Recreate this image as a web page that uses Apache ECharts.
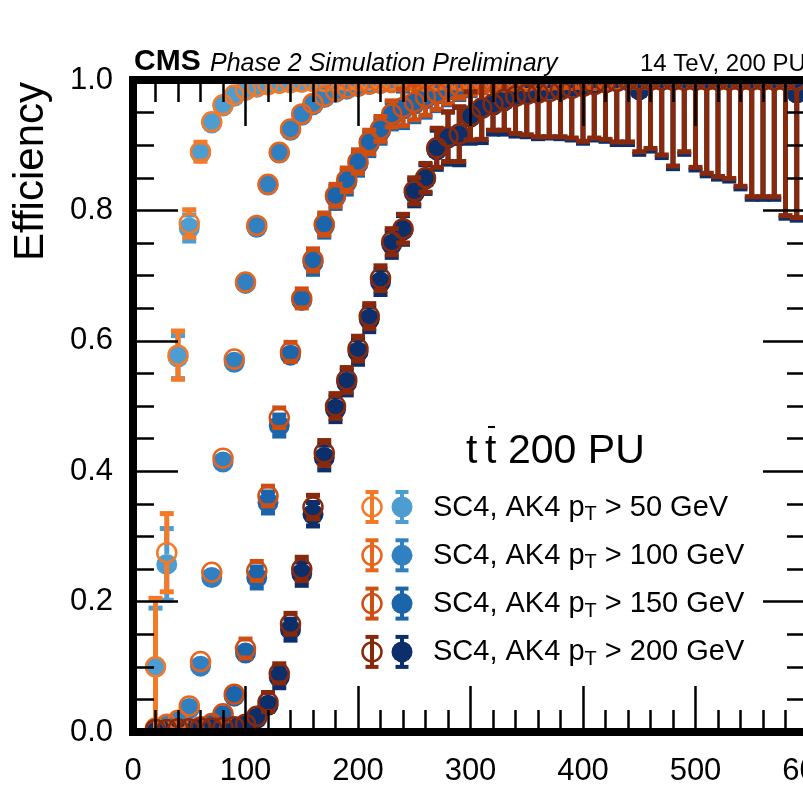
<!DOCTYPE html>
<html>
<head>
<meta charset="utf-8">
<script src="https://cdn.jsdelivr.net/npm/echarts@6/dist/echarts.min.js"></script>
<style>
  html, body { margin: 0; padding: 0; background: #fff; }
  #chart { width: 803px; height: 810px; }
</style>
</head>
<body>
<div id="chart"></div>
<script>
// jet pT bins (GeV)
const binCenters = [
  20, 30, 40, 50, 60, 70, 80, 90, 100, 110,
  120, 130, 140, 150, 160, 170, 180, 190, 200, 210,
  220, 230, 240, 250, 260, 270, 280, 290, 300, 310,
  320, 330, 340, 350, 360, 370, 380, 390, 400, 410,
  420, 430, 440, 450, 460, 470, 480, 490, 500, 510,
  520, 530, 540, 550, 560, 570, 580, 590
]

// AK4 (filled) efficiencies
const ak50 = [
  0.100, 0.257, 0.575, 0.773, 0.888, 0.934, 0.960, 0.975, 0.984, 0.989,
  0.993, 0.995, 0.996, 0.997, 0.998, 0.998, 0.999, 0.999, 0.999, 1.000,
  1.000, 1.000, 1.000, 1.000, 1.000, 1.000, 1.000, 1.000, 1.000, 1.000,
  1.000, 1.000, 1.000, 1.000, 1.000, 1.000, 1.000, 1.000, 1.000, 1.000,
  1.000, 1.000, 1.000, 1.000, 1.000, 1.000, 1.000, 1.000, 1.000, 1.000,
  1.000, 1.000, 1.000, 1.000, 1.000, 1.000, 1.000, 1.000
]
const ak50Err = [
  0.090, 0.055, 0.033, 0.020, 0.012, 0.008, 0.006, 0.005, 0.004, 0.003,
  0.003, 0.002, 0.002, 0.002, 0.002, 0.002, 0.002, 0.002, 0.002, 0.002,
  0.002, 0.002, 0.002, 0.002, 0.002, 0.002, 0.002, 0.002, 0.002, 0.002,
  0.002, 0.002, 0.002, 0.002, 0.002, 0.002, 0.002, 0.002, 0.002, 0.002,
  0.002, 0.002, 0.002, 0.002, 0.002, 0.002, 0.002, 0.002, 0.002, 0.002,
  0.002, 0.002, 0.002, 0.002, 0.002, 0.002, 0.002, 0.002
]
const ak100 = [
  0.004, 0.010, 0.016, 0.036, 0.101, 0.237, 0.414, 0.567, 0.688, 0.774,
  0.839, 0.888, 0.923, 0.946, 0.962, 0.973, 0.981, 0.986, 0.990, 0.993,
  0.995, 0.996, 0.997, 0.998, 0.998, 0.999, 0.999, 0.999, 1.000, 1.000,
  1.000, 1.000, 1.000, 1.000, 1.000, 1.000, 1.000, 1.000, 1.000, 1.000,
  1.000, 1.000, 1.000, 1.000, 1.000, 1.000, 1.000, 1.000, 1.000, 1.000,
  1.000, 1.000, 1.000, 1.000, 1.000, 1.000, 1.000, 1.000
]
const ak100Err = [
  0.004, 0.004, 0.005, 0.006, 0.008, 0.009, 0.010, 0.009, 0.008, 0.007,
  0.006, 0.005, 0.004, 0.004, 0.003, 0.003, 0.003, 0.003, 0.003, 0.003,
  0.003, 0.003, 0.003, 0.003, 0.003, 0.003, 0.003, 0.003, 0.003, 0.003,
  0.003, 0.003, 0.003, 0.003, 0.003, 0.003, 0.003, 0.003, 0.003, 0.003,
  0.003, 0.003, 0.003, 0.003, 0.003, 0.003, 0.003, 0.003, 0.003, 0.003,
  0.003, 0.003, 0.003, 0.003, 0.003, 0.003, 0.003, 0.003
]
const ak150 = [
  0.002, 0.003, 0.003, 0.004, 0.006, 0.011, 0.025, 0.055, 0.121, 0.237,
  0.352, 0.470, 0.578, 0.662, 0.720, 0.776, 0.820, 0.843, 0.872, 0.902,
  0.922, 0.945, 0.955, 0.963, 0.971, 0.978, 0.984, 0.988, 0.992, 0.995,
  0.996, 0.997, 0.998, 0.998, 0.999, 0.999, 0.999, 1.000, 1.000, 1.000,
  1.000, 1.000, 1.000, 1.000, 1.000, 1.000, 1.000, 1.000, 1.000, 1.000,
  1.000, 1.000, 1.000, 1.000, 1.000, 1.000, 1.000, 1.000
]
const ak150Err = [
  0.003, 0.003, 0.003, 0.004, 0.005, 0.006, 0.008, 0.010, 0.012, 0.014,
  0.015, 0.015, 0.012, 0.012, 0.018, 0.017, 0.017, 0.018, 0.018, 0.018,
  0.019, 0.020, 0.028, 0.027, 0.028, 0.025, 0.022, 0.018, 0.015, 0.012,
  0.010, 0.009, 0.008, 0.007, 0.006, 0.006, 0.006, 0.006, 0.006, 0.006,
  0.006, 0.006, 0.006, 0.006, 0.006, 0.006, 0.006, 0.006, 0.006, 0.006,
  0.006, 0.006, 0.006, 0.006, 0.006, 0.006, 0.006, 0.006
]
const ak200 = [
  0.002, 0.002, 0.003, 0.003, 0.004, 0.004, 0.005, 0.006, 0.010, 0.021,
  0.041, 0.084, 0.157, 0.243, 0.334, 0.421, 0.495, 0.536, 0.583, 0.633,
  0.690, 0.748, 0.770, 0.827, 0.848, 0.893, 0.911, 0.914, 0.943, 0.956,
  0.961, 0.968, 0.975, 0.979, 0.983, 0.986, 0.988, 0.990, 0.992, 0.995,
  0.997, 0.998, 0.999, 0.985, 1.000, 1.000, 1.000, 1.000, 1.000, 1.000,
  1.000, 1.000, 1.000, 1.000, 1.000, 1.000, 1.000, 0.980
]
const ak200Err = [
  0.004, 0.004, 0.004, 0.004, 0.005, 0.005, 0.005, 0.006, 0.007, 0.009,
  0.012, 0.014, 0.016, 0.018, 0.018, 0.019, 0.019, 0.019, 0.019, 0.019,
  0.019, 0.020, 0.022, 0.020, 0.022, 0.030, 0.040, 0.044, 0.040, 0.052,
  0.044, 0.051, 0.061, 0.066, 0.073, 0.075, 0.078, 0.082, 0.089, 0.087,
  0.091, 0.097, 0.098, 0.099, 0.109, 0.119, 0.136, 0.114, 0.138, 0.147,
  0.152, 0.155, 0.167, 0.183, 0.183, 0.183, 0.212, 0.195
]

// SC4 (open) efficiencies
const sc50 = [
  0.100, 0.275, 0.578, 0.780, 0.890, 0.936, 0.962, 0.977, 0.985, 0.990,
  0.993, 0.995, 0.996, 0.997, 0.998, 0.998, 0.999, 0.999, 0.999, 1.000,
  1.000, 1.000, 1.000, 1.000, 1.000, 1.000, 1.000, 1.000, 1.000, 1.000,
  1.000, 1.000, 1.000, 1.000, 1.000, 1.000, 1.000, 1.000, 1.000, 1.000,
  1.000, 1.000, 1.000, 1.000, 1.000, 1.000, 1.000, 1.000, 1.000, 1.000,
  1.000, 1.000, 1.000, 1.000, 1.000, 1.000, 1.000, 1.000
]
const sc50Err = [
  0.105, 0.060, 0.037, 0.021, 0.012, 0.008, 0.006, 0.005, 0.004, 0.003,
  0.003, 0.002, 0.002, 0.002, 0.002, 0.002, 0.002, 0.002, 0.002, 0.002,
  0.002, 0.002, 0.002, 0.002, 0.002, 0.002, 0.002, 0.002, 0.002, 0.002,
  0.002, 0.002, 0.002, 0.002, 0.002, 0.002, 0.002, 0.002, 0.002, 0.002,
  0.002, 0.002, 0.002, 0.002, 0.002, 0.002, 0.002, 0.002, 0.002, 0.002,
  0.002, 0.002, 0.002, 0.002, 0.002, 0.002, 0.002, 0.002
]
const sc100 = [
  0.006, 0.012, 0.018, 0.040, 0.108, 0.245, 0.420, 0.572, 0.690, 0.777,
  0.840, 0.889, 0.925, 0.948, 0.964, 0.975, 0.983, 0.988, 0.991, 0.994,
  0.995, 0.996, 0.997, 0.998, 0.998, 0.999, 0.999, 0.999, 1.000, 1.000,
  1.000, 1.000, 1.000, 1.000, 1.000, 1.000, 1.000, 1.000, 1.000, 1.000,
  1.000, 1.000, 1.000, 1.000, 1.000, 1.000, 1.000, 1.000, 1.000, 1.000,
  1.000, 1.000, 1.000, 1.000, 1.000, 1.000, 1.000, 1.000
]
const sc100Err = [
  0.004, 0.004, 0.005, 0.006, 0.008, 0.009, 0.010, 0.009, 0.008, 0.007,
  0.006, 0.005, 0.004, 0.004, 0.003, 0.003, 0.003, 0.003, 0.003, 0.003,
  0.003, 0.003, 0.003, 0.003, 0.003, 0.003, 0.003, 0.003, 0.003, 0.003,
  0.003, 0.003, 0.003, 0.003, 0.003, 0.003, 0.003, 0.003, 0.003, 0.003,
  0.003, 0.003, 0.003, 0.003, 0.003, 0.003, 0.003, 0.003, 0.003, 0.003,
  0.003, 0.003, 0.003, 0.003, 0.003, 0.003, 0.003, 0.003
]
const sc150 = [
  0.003, 0.004, 0.004, 0.005, 0.008, 0.013, 0.028, 0.058, 0.128, 0.247,
  0.362, 0.482, 0.583, 0.665, 0.724, 0.779, 0.823, 0.847, 0.875, 0.905,
  0.925, 0.948, 0.958, 0.966, 0.974, 0.980, 0.986, 0.990, 0.993, 0.995,
  0.996, 0.997, 0.998, 0.998, 0.999, 0.999, 0.999, 1.000, 1.000, 1.000,
  1.000, 1.000, 1.000, 1.000, 1.000, 1.000, 1.000, 1.000, 1.000, 1.000,
  1.000, 1.000, 1.000, 1.000, 1.000, 1.000, 1.000, 1.000
]
const sc150Err = [
  0.003, 0.003, 0.003, 0.004, 0.005, 0.006, 0.008, 0.010, 0.012, 0.014,
  0.015, 0.015, 0.012, 0.012, 0.017, 0.017, 0.017, 0.018, 0.018, 0.018,
  0.019, 0.020, 0.028, 0.027, 0.028, 0.025, 0.022, 0.018, 0.015, 0.012,
  0.010, 0.009, 0.008, 0.007, 0.006, 0.006, 0.006, 0.006, 0.006, 0.006,
  0.006, 0.006, 0.006, 0.006, 0.006, 0.006, 0.006, 0.006, 0.006, 0.006,
  0.006, 0.006, 0.006, 0.006, 0.006, 0.006, 0.006, 0.006
]
const sc200 = [
  0.004, 0.004, 0.005, 0.005, 0.006, 0.006, 0.007, 0.008, 0.012, 0.024,
  0.046, 0.090, 0.166, 0.250, 0.345, 0.428, 0.500, 0.540, 0.588, 0.638,
  0.696, 0.752, 0.772, 0.830, 0.850, 0.896, 0.913, 0.917, 0.945, 0.957,
  0.963, 0.970, 0.975, 0.978, 0.980, 0.982, 0.985, 0.987, 0.990, 0.993,
  0.996, 0.998, 1.000, 1.000, 1.000, 1.000, 1.000, 1.000, 1.000, 1.000,
  1.000, 1.000, 1.000, 1.000, 1.000, 1.000, 1.000, 1.000
]
const sc200Err = [
  0.004, 0.004, 0.004, 0.004, 0.005, 0.005, 0.005, 0.006, 0.007, 0.009,
  0.012, 0.014, 0.016, 0.018, 0.018, 0.019, 0.019, 0.019, 0.019, 0.019,
  0.019, 0.020, 0.022, 0.020, 0.022, 0.030, 0.038, 0.042, 0.037, 0.048,
  0.040, 0.047, 0.057, 0.062, 0.067, 0.069, 0.072, 0.076, 0.084, 0.082,
  0.087, 0.093, 0.095, 0.110, 0.105, 0.115, 0.132, 0.110, 0.134, 0.143,
  0.148, 0.151, 0.163, 0.179, 0.179, 0.179, 0.208, 0.211
]

const thresholds = ['50', '100', '150', '200']
const akColors = ['#4d9dd0', '#3181c2', '#1d65ab', '#0c2e6a']
const scColors = ['#f47a28', '#e7661d', '#cf4f12', '#88290b']
const akSets = [[ak50, ak50Err], [ak100, ak100Err], [ak150, ak150Err], [ak200, ak200Err]]
const scSets = [[sc50, sc50Err], [sc100, sc100Err], [sc150, sc150Err], [sc200, sc200Err]]

const FONT = '"Liberation Sans", Arial, Helvetica, sans-serif'

// marker with ROOT-like error bar (bar outside the marker, flat caps)
function errorItem(filled, color) {
  return function (params, api) {
    const x = api.value(0)
    const y = api.value(1)
    const e = api.value(2)
    const c = api.coord([x, y])
    const bot = api.coord([x, y - e])[1]
    const r = filled ? 10.5 : 9.5
    const half = bot - c[1]
    const children = []
    if (half > r - 2) {
      const d = Math.max(half, r)
      const ls = { stroke: color, lineWidth: 5 }
      children.push({ type: 'line', shape: { x1: c[0], y1: c[1] - d, x2: c[0], y2: c[1] - r }, style: ls })
      children.push({ type: 'line', shape: { x1: c[0], y1: c[1] + r, x2: c[0], y2: c[1] + d }, style: ls })
      children.push({ type: 'rect', shape: { x: c[0] - 7, y: c[1] - d - 2.5, width: 14, height: 5 }, style: { fill: color } })
      children.push({ type: 'rect', shape: { x: c[0] - 7, y: c[1] + d - 2.5, width: 14, height: 5 }, style: { fill: color } })
    }
    if (filled) {
      children.push({ type: 'circle', shape: { cx: c[0], cy: c[1], r: r }, style: { fill: color } })
    } else {
      children.push({ type: 'circle', shape: { cx: c[0], cy: c[1], r: r }, style: { fill: 'none', stroke: color, lineWidth: 2.5 } })
    }
    return { type: 'group', children: children }
  }
}

const series = []
akSets.forEach((s, k) => {
  series.push({
    type: 'custom',
    name: 'AK4 ' + thresholds[k],
    clip: true,
    renderItem: errorItem(true, akColors[k]),
    encode: { x: 0, y: 1 },
    data: binCenters.map((x, i) => [x, s[0][i], s[1][i]])
  })
})
scSets.forEach((s, k) => {
  series.push({
    type: 'custom',
    name: 'SC4 ' + thresholds[k],
    clip: true,
    renderItem: errorItem(false, scColors[k]),
    encode: { x: 0, y: 1 },
    data: binCenters.map((x, i) => [x, s[0][i], s[1][i]])
  })
})

const axisLine = { show: true, onZero: false, lineStyle: { color: '#000', width: 8, cap: 'square' } }
const tickStyle = { color: '#000', width: 2.5 }

function xAx(pos, labels) {
  return {
    type: 'value', position: pos, min: 0, max: 600, interval: 100, z: 10,
    axisLine: axisLine,
    axisTick: { show: true, inside: true, length: 46, lineStyle: tickStyle },
    minorTick: { show: true, splitNumber: 5, length: 22, lineStyle: tickStyle },
    splitLine: { show: false },
    axisLabel: { show: labels, color: '#000', fontSize: 31, fontFamily: FONT, margin: 24 }
  }
}
function yAx(pos, labels) {
  return {
    type: 'value', position: pos, min: 0, max: 1, interval: 0.2, z: 10,
    axisLine: axisLine,
    axisTick: { show: true, inside: true, length: 45, lineStyle: tickStyle },
    minorTick: { show: true, splitNumber: 4, length: 21, lineStyle: tickStyle },
    splitLine: { show: false },
    axisLabel: { show: labels, color: '#000', fontSize: 31, fontFamily: FONT, margin: 20,
      formatter: v => v.toFixed(1) }
  }
}

// legend drawn by hand: open SC4 marker + filled AK4 marker per row
const legendGraphics = []
thresholds.forEach((t, i) => {
  const cy = 507 + 48.3 * i
  const sc = scColors[i]
  const ak = akColors[i]
  legendGraphics.push(
    { type: 'line', shape: { x1: 372, y1: cy - 15, x2: 372, y2: cy + 15 }, style: { stroke: sc, lineWidth: 4 } },
    { type: 'rect', shape: { x: 365.5, y: cy - 17, width: 13, height: 4 }, style: { fill: sc } },
    { type: 'rect', shape: { x: 365.5, y: cy + 13, width: 13, height: 4 }, style: { fill: sc } },
    { type: 'circle', shape: { cx: 372, cy: cy, r: 9.5 }, style: { fill: 'none', stroke: sc, lineWidth: 2.5 } },
    { type: 'line', shape: { x1: 402, y1: cy - 15, x2: 402, y2: cy + 15 }, style: { stroke: ak, lineWidth: 4 } },
    { type: 'rect', shape: { x: 395.5, y: cy - 17, width: 13, height: 4 }, style: { fill: ak } },
    { type: 'rect', shape: { x: 395.5, y: cy + 13, width: 13, height: 4 }, style: { fill: ak } },
    { type: 'circle', shape: { cx: 402, cy: cy, r: 10.5 }, style: { fill: ak } },
    {
      type: 'text', x: 433, y: cy + 0.5,
      style: {
        text: '{m|SC4, AK4 p}{s|T}{m| > ' + t + ' GeV}',
        textVerticalAlign: 'middle',
        rich: {
          m: { fontSize: 29, fontFamily: FONT, fill: '#000', lineHeight: 34 },
          s: { fontSize: 20, fontFamily: FONT, fill: '#000', lineHeight: 20, verticalAlign: 'bottom' }
        }
      }
    }
  )
})

const chart = echarts.init(document.getElementById('chart'))
chart.setOption({
  backgroundColor: '#fff',
  animation: false,
  grid: { left: 133, top: 80, width: 675, height: 652, containLabel: false, outerBoundsMode: 'none' },
  xAxis: [xAx('bottom', true), xAx('top', false)],
  yAxis: [yAx('left', true), yAx('right', false)],
  series: series,
  graphic: [
    { type: 'text', x: 134, y: 62, style: { text: 'CMS', font: 'bold 30px ' + FONT, fill: '#000', textVerticalAlign: 'middle' } },
    { type: 'text', x: 210, y: 64, style: { text: 'Phase 2 Simulation Preliminary', font: 'italic 25px ' + FONT, fill: '#000', textVerticalAlign: 'middle' } },
    { type: 'text', x: 640, y: 64, style: { text: '14 TeV, 200 PU', font: '24px ' + FONT, fill: '#000', textVerticalAlign: 'middle' } },
    { type: 'text', x: 31, y: 82, rotation: Math.PI / 2, style: { text: 'Efficiency', font: '42px ' + FONT, fill: '#000', textAlign: 'right', textVerticalAlign: 'middle' } },
    // t tbar 200 PU
    { type: 'text', x: 466, y: 452, style: { text: 't', font: '41px ' + FONT, fill: '#000', textVerticalAlign: 'middle' } },
    { type: 'text', x: 485, y: 452, style: { text: 't', font: '41px ' + FONT, fill: '#000', textVerticalAlign: 'middle' } },
    { type: 'line', shape: { x1: 488, y1: 427, x2: 495, y2: 427 }, style: { stroke: '#000', lineWidth: 2 } },
    { type: 'text', x: 508, y: 452, style: { text: '200 PU', font: '41px ' + FONT, fill: '#000', textVerticalAlign: 'middle' } }
  ].concat(legendGraphics)
})
</script>
</body>
</html>
